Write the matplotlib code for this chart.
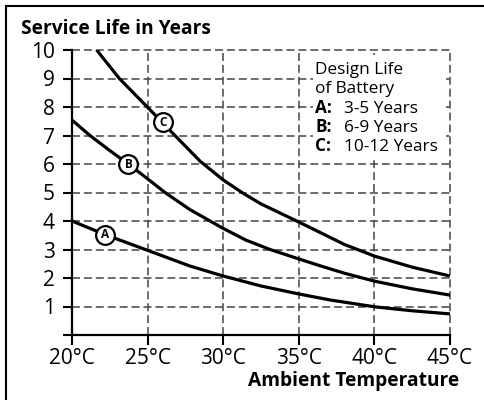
import numpy as np
import matplotlib
matplotlib.use('Agg')
import matplotlib.pyplot as plt
from matplotlib.lines import Line2D
from matplotlib.patches import Rectangle

plt.rcParams['font.family'] = ['Open Sans', 'DejaVu Sans']

# service life (years) (deg C)
tempsC = [21.63, 23.13, 24.98, 26.81, 28.47, 30, 31.33, 32.5, 34.86, 36.4, 38, 40, 42.5, 45]
lifeC = [10.0, 9.0, 8.0, 7.0, 6.1, 5.44, 4.97, 4.6, 4.0, 3.6, 3.18, 2.77, 2.38, 2.07]
tempsB = [20, 21.19, 22.5, 23.73, 25, 26.15, 27.8, 30, 31.5, 33.1, 35, 36.4, 38, 40, 42.5, 45]
lifeB = [7.54, 7.0, 6.47, 6.0, 5.48, 5.0, 4.4, 3.74, 3.33, 3.0, 2.67, 2.43, 2.17, 1.89, 1.62, 1.40]
tempsA = [20, 22.2, 25, 27.8, 30, 32.5, 35, 37.06, 40, 42.5, 45]
lifeA = [4.0, 3.52, 2.97, 2.42, 2.07, 1.72, 1.44, 1.23, 0.99, 0.85, 0.74]
# where the circled letters sit on each curve
markers = {'A': (22.2, 3.52), 'B': (23.73, 6.0), 'C': (26.04, 7.46)}
xticks = [20, 25, 30, 35, 40, 45]
yticks = list(range(0, 11))
legendHead = ['Design Life', 'of Battery']
legendRows = [('A:', '3-5 Years'), ('B:', '6-9 Years'), ('C:', '10-12 Years')]

fig = plt.figure(figsize=(4.84, 4.0), dpi=100)
ax = fig.add_axes([72/484, 65/400, 378/484, 285/400])

for xs, ys in ((tempsA, lifeA), (tempsB, lifeB), (tempsC, lifeC)):
    ax.plot(xs, ys, color='black', lw=2.3, solid_capstyle='butt',
            solid_joinstyle='round', zorder=3)

for letter, (mx, my) in markers.items():
    ax.plot(mx, my, 'o', ms=13.5, mfc='white', mec='black', mew=1.6, zorder=4)
    ax.text(mx, my, letter, ha='center', va='center', fontsize=8.5,
            fontweight='bold', zorder=5)

ax.set_xlim(20, 45)
ax.set_ylim(0, 10)
ax.set_xticks(xticks)
ax.set_xticklabels(['%d°C' % t for t in xticks])
ax.set_yticks(yticks)
ax.set_yticklabels([''] + [str(v) for v in yticks[1:]])
ax.tick_params(axis='both', direction='out', width=1.5, labelsize=15)
ax.tick_params(axis='y', length=6.5, pad=6)
ax.tick_params(axis='x', length=7, pad=2)
for s in ('top', 'right'):
    ax.spines[s].set_visible(False)
for s in ('left', 'bottom'):
    ax.spines[s].set_linewidth(1.6)
ax.grid(True, color='#444444', lw=1.1, linestyle=(0, (5.2, 2.6)))
ax.set_axisbelow(True)
for gl in ax.get_xgridlines() + ax.get_ygridlines():
    gl.set_clip_on(False)

# legend block sitting on top of the grid
ax.add_patch(Rectangle((0.638, 0.614), 0.351, 0.368, transform=ax.transAxes,
                       facecolor='white', edgecolor='none', zorder=2.5))
baselines = [0.916, 0.849, 0.780, 0.713, 0.647]
for yy, line in zip(baselines, legendHead):
    ax.text(0.643, yy, line, transform=ax.transAxes, ha='left', va='baseline',
            fontsize=12.4, zorder=6)
for yy, (key, val) in zip(baselines[2:], legendRows):
    ax.text(0.643, yy, key, transform=ax.transAxes, ha='left', va='baseline',
            fontsize=12.4, fontweight='bold', zorder=6)
    ax.text(0.72, yy, val, transform=ax.transAxes, ha='left', va='baseline',
            fontsize=12.4, zorder=6)

fig.text(21/484, 1 - 29.5/400, 'Service Life in Years', ha='left', va='center',
         fontsize=13.8, fontweight='bold')
fig.text(459/484, 1 - 381/400, 'Ambient Temperature', ha='right', va='center',
         fontsize=13.8, fontweight='bold')

# outer frame (only top and left edges fall inside the picture)
fig.add_artist(Line2D([6/484, 1], [1 - 6/400, 1 - 6/400], color='black', lw=1.5))
fig.add_artist(Line2D([6/484, 6/484], [0, 1 - 6/400], color='black', lw=1.5))

fig.savefig('out.png', dpi=100)
